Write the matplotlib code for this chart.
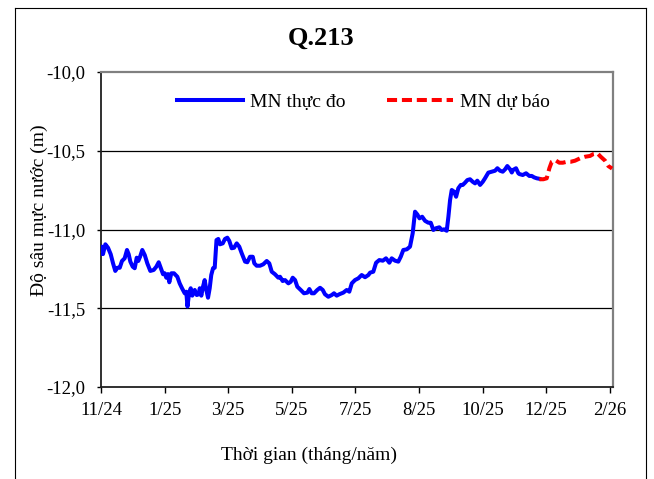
import matplotlib
matplotlib.use("Agg")
import matplotlib.pyplot as plt
from matplotlib.lines import Line2D

plt.rcParams['font.family'] = ['Liberation Serif', 'DejaVu Serif']

# ---- data (x = days from first tick, y = depth of water level in m) ----
obs_day = [0, 0.9, 1.8, 3.9, 6.3, 8.7, 10.8, 12.8, 14.6, 16.8, 18.8, 21.2, 23.3, 24.8,
           26.3, 28.4, 30.2, 32.0, 33.4, 35.0, 37.0, 39.2, 41.5, 44.2, 47.2, 49.6, 51.7,
           53.5, 55.6, 57.1, 58.5, 60.0, 61.2, 63.0, 65.4, 68.4, 70.5, 72.6, 75.0, 76.4,
           77.5, 78.9, 80.4, 81.8, 84.0, 85.8, 87.6, 88.5, 89.9, 91.4, 92.9, 94.4, 95.9,
           97.4, 98.8, 100.4, 101.9, 103.5, 105.1, 106.6, 109.1, 111.1, 113.2, 115.0,
           117.1, 119.2, 121.6, 123.9, 126.1, 129.1, 131.1, 133.5, 136.0, 137.4, 139.5,
           142.5, 145.4, 148.5, 150.8, 153.0, 155.9, 158.9, 160.4, 162.8, 164.9, 167.9,
           170.0, 171.8, 173.9, 175.9, 179.0, 181.9, 184.9, 186.7, 188.8, 190.9, 193.8,
           196.3, 198.7, 200.7, 203.7, 206.8, 208.8, 211.2, 213.6, 217.1, 220.2, 222.5,
           224.7, 227.6, 230.6, 233.6, 236.6, 239.6, 241.1, 244.0, 246.5, 249.4, 252.5,
           255.4, 258.4, 260.5, 263.5, 266.4, 268.6, 270.9, 274.0, 276.9, 279.3, 281.4,
           283.5, 285.4, 287.8, 290.4, 293.3, 295.5, 297.8, 300.2, 303.2, 305.3, 307.4,
           309.8, 311.3, 312.8, 314.3, 316.4, 318.2, 320.2, 322.4, 324.2, 326.2, 328.3,
           330.7, 333.1, 335.2, 337.2, 339.7, 342.1, 344.1, 347.1, 350.1, 353.1, 355.2,
           357.6, 360.0, 362.1, 364.1, 366.6, 368.1, 369.2, 371.9, 374.0, 374.9, 377.9,
           380.9, 383.8, 386.0, 388.1, 390.5, 392.8]
obs_level = [-11.151, -11.109, -11.156, -11.094, -11.116, -11.157, -11.215, -11.263, -11.243,
             -11.243, -11.200, -11.183, -11.130, -11.157, -11.204, -11.236, -11.246, -11.179,
             -11.200, -11.173, -11.130, -11.162, -11.215, -11.263, -11.257, -11.236, -11.208,
             -11.243, -11.284, -11.278, -11.306, -11.283, -11.335, -11.278, -11.278, -11.300,
             -11.342, -11.373, -11.405, -11.395, -11.489, -11.405, -11.373, -11.420, -11.384,
             -11.416, -11.411, -11.373, -11.420, -11.363, -11.321, -11.384, -11.433, -11.373,
             -11.289, -11.246, -11.243, -11.067, -11.060, -11.094, -11.088, -11.060, -11.052,
             -11.073, -11.119, -11.116, -11.088, -11.109, -11.151, -11.204, -11.208, -11.173,
             -11.173, -11.215, -11.230, -11.230, -11.221, -11.200, -11.215, -11.268, -11.284,
             -11.306, -11.300, -11.327, -11.321, -11.342, -11.332, -11.306, -11.321, -11.363,
             -11.384, -11.405, -11.401, -11.378, -11.405, -11.405, -11.384, -11.370, -11.384,
             -11.411, -11.427, -11.416, -11.405, -11.420, -11.411, -11.401, -11.384, -11.395,
             -11.342, -11.321, -11.310, -11.289, -11.303, -11.289, -11.274, -11.268, -11.211,
             -11.194, -11.198, -11.183, -11.211, -11.183, -11.198, -11.204, -11.173, -11.130,
             -11.126, -11.109, -11.024, -10.887, -10.905, -10.929, -10.919, -10.945, -10.957,
             -10.957, -11.003, -10.992, -10.986, -11.003, -10.999, -11.008, -10.919, -10.813,
             -10.749, -10.760, -10.792, -10.738, -10.717, -10.717, -10.703, -10.686, -10.681,
             -10.697, -10.707, -10.690, -10.717, -10.697, -10.675, -10.639, -10.633, -10.627,
             -10.611, -10.627, -10.633, -10.618, -10.597, -10.618, -10.638, -10.622, -10.611,
             -10.643, -10.648, -10.654, -10.643, -10.660, -10.660, -10.669, -10.675, -10.678]

fc_day = [392.8, 396.4, 399.4, 401.8, 403.9, 406.9, 410.7, 413.8, 417.4, 420.9, 424.8,
          429.3, 433.8, 438.2, 441.2, 444.8, 447.8, 451.7, 454.6, 458.0]
fc_level = [-10.681, -10.681, -10.675, -10.611, -10.570, -10.559, -10.576, -10.576, -10.570,
            -10.570, -10.563, -10.548, -10.538, -10.533, -10.521, -10.516, -10.538, -10.563,
            -10.597, -10.613]

tick_days = [0, 57, 114, 171, 228, 285, 342, 399, 456]
tick_labels = ['11/24', '1/25', '3/25', '5/25', '7/25', '8/25', '10/25', '12/25', '2/26']
y_ticks = [-12.0, -11.5, -11.0, -10.5, -10.0]
y_labels = ['-12,0', '-11,5', '-11,0', '-10,5', '-10,0']

W, H = 654, 479
fig = plt.figure(figsize=(W / 100, H / 100), dpi=100)
ax = fig.add_axes([101 / W, 1 - 387 / H, (613 - 101) / W, (387 - 72) / H])

ax.plot(obs_day, obs_level, color='#0000FF', lw=2.9, solid_joinstyle='round',
        label='MN thực đo', zorder=3)
ax.plot(fc_day, fc_level, color='#FF0000', lw=2.9, dashes=(2.5, 1.2),
        label='MN dự báo', zorder=3)

ax.set_xlim(0, 458.8)
ax.set_ylim(-12.0, -10.0)
ax.set_xticks(tick_days)
ax.set_xticklabels(tick_labels, fontsize=13.5)
ax.set_yticks(y_ticks)
ax.set_yticklabels(y_labels, fontsize=13.5)
ax.tick_params(axis='x', direction='out', length=4.5, width=1, pad=6, colors='black')
ax.tick_params(axis='y', direction='out', length=3, width=1, pad=8, colors='black')

for yv in [-11.5, -11.0, -10.5]:
    ax.axhline(yv, color='black', lw=0.9, zorder=1)

for s in ['left', 'bottom']:
    ax.spines[s].set_color('#202020')
    ax.spines[s].set_linewidth(1.3)
for s in ['top', 'right']:
    ax.spines[s].set_color('#808080')
    ax.spines[s].set_linewidth(1.6)

leg = ax.legend(loc='center left', bbox_to_anchor=((176.7 - 101) / 512, (387 - 101.7) / 315),
                ncol=2, frameon=False, fontsize=14, handlelength=3.4, handletextpad=0.36,
                columnspacing=2.15, borderpad=0, borderaxespad=0)

fig.text(321 / W, 1 - 38 / H, 'Q.213', ha='center', va='center', fontsize=19, fontweight='bold')
fig.text(309 / W, 1 - 455 / H, 'Thời gian (tháng/năm)', ha='center', va='center', fontsize=14)
fig.text(39 / W, 1 - 210 / H, 'Độ sâu mực nước (m)', ha='center', va='center', fontsize=14,
         rotation=90)

# outer chart border
bx0, bx1, by1 = 15 / W, 646 / W, 1 - 8 / H
for xs, ys in [([bx0, bx0], [-0.05, by1]), ([bx0, bx1], [by1, by1]), ([bx1, bx1], [by1, -0.05])]:
    fig.add_artist(Line2D(xs, ys, transform=fig.transFigure, color='black', lw=0.8))

fig.savefig('out.png', dpi=100)
